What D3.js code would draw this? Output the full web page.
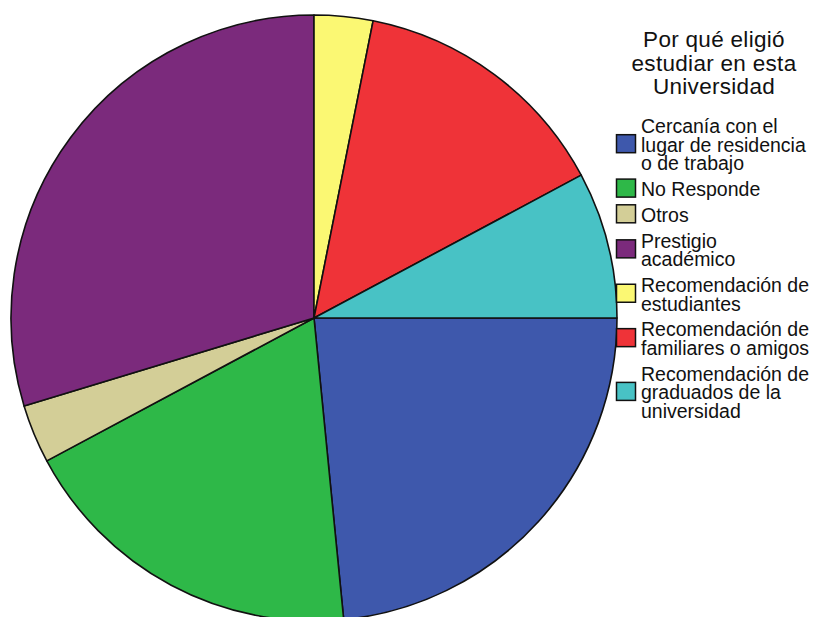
<!DOCTYPE html>
<html>
<head>
<meta charset="utf-8">
<script src="https://cdn.jsdelivr.net/npm/d3@7"></script>
<style>
  html, body { margin: 0; padding: 0; background: #fff; }
  svg { display: block; }
  text { font-family: "Liberation Sans", Arial, sans-serif; fill: #111; }
</style>
</head>
<body>
<svg id="chart" width="814" height="617"></svg>
<script>
// ---- data ----
const chartTitle = ["Por qué eligió", "estudiar en esta", "Universidad"];
const categories = [
  ["Cercanía con el", "lugar de residencia", "o de trabajo"],
  ["No Responde"],
  ["Otros"],
  ["Prestigio", "académico"],
  ["Recomendación de", "estudiantes"],
  ["Recomendación de", "familiares o amigos"],
  ["Recomendación de", "graduados de la", "universidad"]
];
const counts = [15, 12, 2, 19, 2, 9, 5];
const colors = ["#3e58ac", "#2eb848", "#d3ce97", "#7b2a7c", "#fbf873", "#ef3338", "#48c2c5"];

// ---- drawing ----
const svg = d3.select("#chart");
const cx = 314, cy = 318, r = 303;

const data = counts.map((v, i) => ({ value: v, label: categories[i], color: colors[i] }));
const pie = d3.pie().value(d => d.value).sort(null)
  .startAngle(Math.PI / 2).endAngle(Math.PI / 2 + 2 * Math.PI);
const arc = d3.arc().innerRadius(0).outerRadius(r);

const g = svg.append("g").attr("transform", `translate(${cx},${cy})`);
g.selectAll("path").data(pie(data)).join("path")
  .attr("d", arc)
  .attr("fill", d => d.data.color)
  .attr("stroke", "#111")
  .attr("stroke-width", 1.6)
  .attr("stroke-linejoin", "round");

// title
const titleX = 714;
svg.append("g").selectAll("text").data(chartTitle).join("text")
  .attr("x", titleX)
  .attr("y", (d, i) => 47 + i * 23.5)
  .attr("text-anchor", "middle")
  .style("font-size", "22.5px")
  .style("letter-spacing", "0.3px")
  .text(d => d);

// legend
const lineH = 18.7, itemGap = 7;
let baseline = 133;
const leg = svg.append("g");
data.forEach(d => {
  const first = baseline;
  const last = baseline + (d.label.length - 1) * lineH;
  const cyS = (first + last) / 2 - 8;
  leg.append("rect")
    .attr("x", 616.5).attr("y", cyS - 9)
    .attr("width", 19).attr("height", 18)
    .attr("fill", d.color).attr("stroke", "#111").attr("stroke-width", 1.5);
  d.label.forEach((t, j) => {
    leg.append("text")
      .attr("x", 641).attr("y", first + j * lineH)
      .style("font-size", "19.5px")
      .text(t);
  });
  baseline = last + lineH + itemGap;
});
</script>
</body>
</html>
